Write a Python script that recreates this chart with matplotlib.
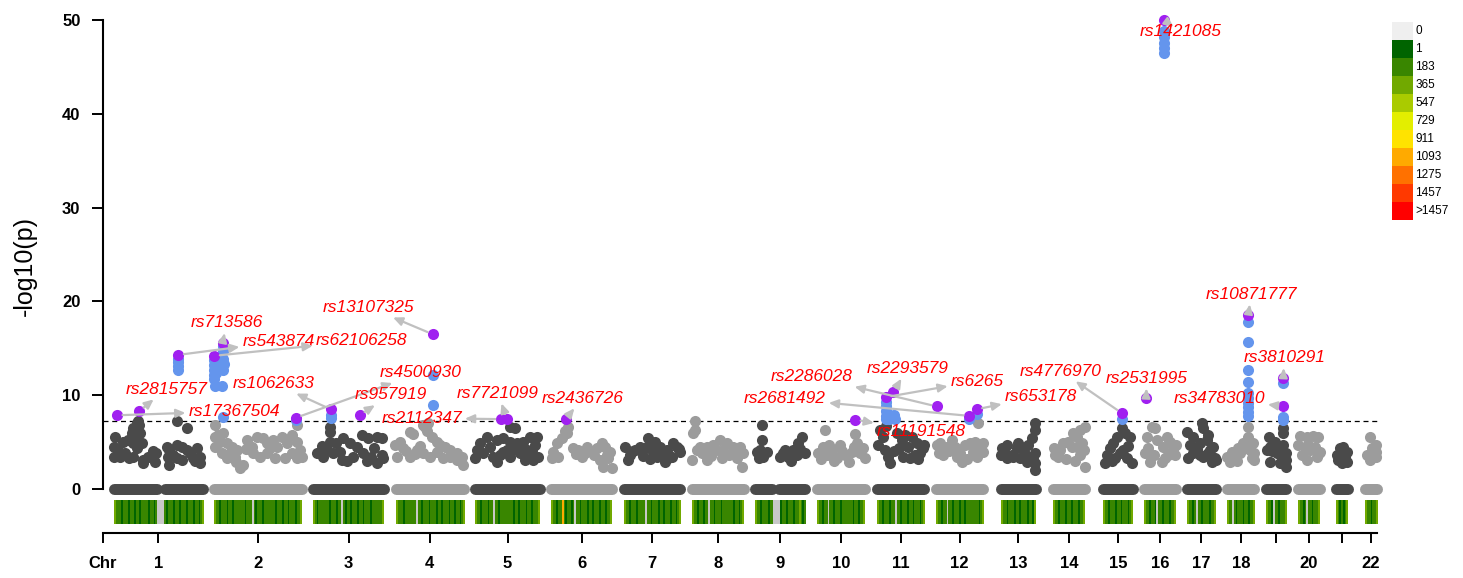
import numpy as np
import matplotlib
matplotlib.use("Agg")
import matplotlib.pyplot as plt
from matplotlib.colors import ListedColormap

plt.rcParams["font.family"] = ["Liberation Sans", "DejaVu Sans"]

# ---------------- data ----------------
chromosomes = [str(i) for i in range(1, 23)]
chrom_tick_labels = ["1", "2", "3", "4", "5", "6", "7", "8", "9", "10", "11", "12",
                     "13", "14", "15", "16", "17", "18", "", "20", "", "22"]
chrom_length_mb = [249.25, 243.20, 198.02, 191.15, 180.92, 171.12, 159.14, 146.36,
                   141.21, 135.53, 135.01, 133.85, 115.17, 107.35, 102.53, 90.35,
                   81.20, 78.08, 59.13, 63.03, 48.13, 51.30]
chrom_first_mb = [1, 1, 2, 3, 3, 3, 3, 3, 3, 3, 3, 3, 20, 20, 21, 3, 3, 3, 3, 3, 15, 18]
gap_chrom = [1, 9]
gap_start_mb = [121.5, 49.0]
gap_end_mb = [142.5, 67.0]
threshold = 7.3

# background SNPs (position in Mb, -log10 p) per chromosome
chr01 = [(5, 5.58), (3, 4.51), (14, 4.16), (28, 5.05), (42, 5.22), (51, 5.93), (56, 6.46), (65, 6.99),
         (69, 7.25), (71, 6.8), (74, 5.93), (60, 5.4), (56, 4.87), (65, 4.34), (79, 4.87), (3, 3.45),
         (19, 3.45), (33, 3.8), (45, 3.27), (56, 3.45), (83, 3.09), (83, 2.74), (97, 3.45), (111, 4.0),
         (118, 3.8), (115, 2.92), (176, 7.2), (203, 6.46), (148, 4.51), (155, 4.16), (175, 4.69),
         (189, 4.51), (203, 4.16), (150, 3.45), (175, 3.27), (189, 3.09), (212, 3.8), (231, 4.34),
         (240, 3.45), (221, 3.27), (155, 2.56), (240, 2.74), (226, 3.0), (165, 3.6)]
chr02 = [(3, 6.8), (2, 5.58), (26, 5.93), (17, 5.05), (3, 4.51), (35, 4.87), (49, 4.51), (63, 4.16),
         (44, 3.8), (21, 3.8), (58, 3.45), (35, 3.27), (72, 2.2), (91, 5.22), (104, 4.51), (118, 5.58),
         (136, 5.4), (146, 4.87), (155, 4.34), (109, 3.8), (127, 3.45), (146, 3.8), (164, 5.22),
         (173, 4.51), (187, 5.58), (201, 4.87), (215, 5.76), (229, 5.05), (238, 4.16), (215, 3.8),
         (196, 3.27), (229, 3.27), (242, 3.45), (80, 2.6), (60, 2.9), (12, 5.76), (229, 6.8),
         (88, 4.3), (170, 3.3)]
chr03 = [(48, 6.64), (48, 6.1), (48, 5.05), (85, 5.4), (104, 4.87), (136, 5.76), (154, 5.4), (177, 5.58),
         (191, 5.4), (122, 4.51), (12, 3.8), (30, 3.45), (57, 3.8), (76, 3.98), (81, 3.09), (113, 3.45),
         (140, 3.8), (163, 3.45), (177, 2.74), (191, 3.63), (196, 3.27), (40, 4.2), (66, 4.9),
         (95, 3.0), (150, 3.0), (25, 4.6), (170, 4.4)]
chr04 = [(42, 6.1), (52, 5.9), (79, 6.8), (93, 6.99), (89, 6.2), (84, 6.6), (102, 5.58), (116, 5.05),
         (125, 4.69), (139, 4.51), (153, 4.16), (171, 3.8), (185, 3.45), (189, 2.56), (2, 4.69),
         (15, 5.05), (24, 4.34), (6, 3.45), (42, 3.45), (61, 4.16), (79, 3.8), (98, 3.45), (116, 3.98),
         (134, 3.27), (153, 3.45), (171, 3.09), (30, 4.0), (55, 3.7), (70, 4.6)]
chr05 = [(99, 6.64), (112, 6.46), (34, 5.58), (16, 4.87), (43, 4.51), (62, 5.22), (80, 5.4), (99, 5.05),
         (117, 4.87), (135, 4.51), (7, 4.16), (25, 3.8), (52, 3.45), (80, 3.98), (99, 3.45), (126, 3.8),
         (145, 3.45), (2, 3.27), (62, 2.92), (135, 5.05), (154, 5.58), (172, 5.58), (168, 4.69),
         (145, 4.16), (177, 3.45), (163, 3.09), (140, 3.09), (90, 4.2), (70, 3.6), (108, 4.2), (160, 4.2)]
chr06 = [(50, 6.64), (45, 5.93), (40, 6.2), (31, 5.4), (18, 4.87), (8, 3.98), (4, 3.27), (22, 3.45),
         (63, 4.34), (77, 4.16), (87, 3.45), (100, 4.51), (114, 3.98), (128, 4.34), (142, 4.87),
         (151, 4.51), (156, 3.62), (165, 3.98), (137, 3.09), (146, 2.38), (170, 2.2), (160, 3.27),
         (95, 3.8), (120, 3.6), (70, 3.7)]
chr07 = [(6, 4.51), (20, 3.62), (15, 3.09), (34, 4.16), (47, 4.51), (70, 5.4), (66, 4.51), (84, 3.98),
         (94, 3.45), (103, 4.51), (121, 4.16), (139, 4.87), (149, 4.51), (157, 3.98), (135, 3.45),
         (117, 2.92), (155, 4.3), (55, 3.5), (90, 5.0), (28, 4.0), (110, 3.8), (125, 3.3), (76, 3.2)]
chr08 = [(11, 7.2), (11, 6.3), (7, 5.93), (16, 4.16), (30, 3.8), (2, 3.09), (44, 4.51), (62, 4.69),
         (80, 5.22), (99, 4.87), (90, 4.16), (117, 4.51), (127, 3.98), (44, 3.09), (120, 4.34),
         (136, 4.51), (144, 3.8), (140, 2.38), (127, 3.27), (55, 3.5), (70, 4.2), (105, 3.6),
         (25, 4.5), (85, 3.3)]
chr09 = [(20, 6.82), (20, 5.22), (16, 4.16), (6, 3.98), (34, 3.98), (25, 3.45), (80, 3.8), (94, 3.45),
         (108, 4.16), (121, 4.87), (131, 5.58), (140, 3.8), (117, 3.62), (71, 3.45), (100, 3.0),
         (12, 3.3), (126, 4.3), (86, 4.2)]
chr10 = [(25, 6.29), (20, 4.51), (6, 3.8), (30, 3.62), (43, 4.16), (57, 3.27), (66, 4.69), (80, 3.62),
         (99, 3.98), (108, 5.9), (113, 4.87), (122, 3.8), (131, 4.34), (135, 3.27), (50, 3.0),
         (90, 2.9), (15, 3.2), (72, 4.1), (104, 4.5), (36, 4.7)]
chr11 = [(12, 6.29), (22, 5.58), (8, 4.69), (26, 4.16), (35, 3.45), (40, 2.74), (59, 5.93), (72, 5.22),
         (82, 5.76), (91, 4.51), (100, 5.58), (114, 4.87), (123, 3.8), (109, 3.62), (132, 4.34),
         (134, 4.69), (77, 3.45), (50, 4.0), (95, 3.3), (118, 3.2), (28, 6.7), (64, 4.4)]
chr12 = [(118, 7.0), (14, 4.87), (33, 4.51), (46, 5.22), (56, 4.51), (69, 3.8), (83, 4.69), (97, 4.87),
         (106, 3.98), (115, 3.45), (124, 4.51), (133, 4.87), (133, 3.98), (60, 3.45), (23, 3.62),
         (5, 4.7), (12, 3.8), (75, 2.9), (90, 3.2), (40, 4.0), (110, 5.0)]
chr13 = [(115, 6.99), (114, 6.29), (104, 5.4), (95, 4.69), (77, 4.34), (63, 4.34), (49, 3.62), (35, 4.69),
         (22, 4.34), (21, 3.62), (35, 3.27), (72, 3.27), (91, 2.92), (113, 3.8), (115, 2.74), (115, 2.0),
         (109, 3.45), (54, 3.45), (68, 4.87), (28, 4.0), (85, 3.7)]
chr14 = [(107, 6.64), (94, 6.29), (85, 5.58), (75, 5.93), (62, 5.05), (71, 4.51), (48, 4.87), (39, 4.16),
         (25, 3.62), (21, 4.34), (34, 3.45), (85, 4.51), (99, 4.87), (106, 4.16), (107, 2.38), (94, 3.62),
         (55, 3.2), (80, 3.0)]
chr15 = [(73, 6.46), (82, 5.93), (96, 5.58), (59, 5.58), (49, 4.87), (40, 4.34), (31, 3.62), (27, 2.74),
         (54, 3.27), (77, 4.16), (87, 3.27), (100, 2.74), (68, 3.8), (45, 3.0), (90, 4.6)]
chr16 = [(10, 5.58), (24, 6.64), (33, 6.46), (38, 5.22), (6, 3.8), (19, 2.92), (29, 3.62), (56, 4.51),
         (65, 5.58), (75, 5.05), (84, 4.16), (89, 3.62), (70, 3.62), (52, 2.92), (90, 4.69), (60, 3.3),
         (15, 4.4)]
chr17 = [(1, 6.11), (20, 5.58), (43, 7.0), (47, 6.46), (61, 5.76), (57, 5.22), (38, 4.87), (11, 4.69),
         (20, 3.8), (38, 3.62), (61, 3.8), (75, 4.51), (80, 3.27), (81, 3.09), (70, 2.92), (47, 3.45),
         (6, 3.27), (30, 4.3), (66, 4.2)]
chr18 = [(61, 6.64), (61, 5.58), (48, 4.87), (34, 4.34), (16, 3.98), (2, 3.45), (25, 3.45), (38, 3.8),
         (66, 4.16), (75, 4.87), (78, 3.8), (78, 3.09), (71, 3.27), (11, 2.92), (55, 4.4), (30, 3.0)]
chr19 = [(10, 5.58), (28, 5.05), (14, 4.51), (42, 4.34), (51, 4.69), (59, 3.8), (33, 3.8), (14, 2.92),
         (42, 2.74), (59, 2.38), (59, 3.09), (46, 3.45), (51, 6.5), (51, 6.0), (20, 4.0), (5, 4.2)]
chr20 = [(9, 5.6), (27, 5.5), (46, 5.6), (59, 5.5), (4, 4.69), (23, 4.51), (37, 4.16), (50, 4.51),
         (63, 3.98), (62, 3.8), (14, 3.62), (27, 3.09), (55, 3.45), (32, 4.7)]
chr21 = [(27, 4.34), (37, 4.51), (46, 3.98), (23, 3.09), (32, 2.74), (46, 2.92), (18, 3.62), (41, 3.45)]
chr22 = [(33, 5.58), (51, 4.69), (38, 4.34), (51, 3.98), (24, 3.62), (42, 3.45), (50, 3.45), (33, 3.09)]
snps_by_chrom = [chr01, chr02, chr03, chr04, chr05, chr06, chr07, chr08, chr09, chr10, chr11,
                 chr12, chr13, chr14, chr15, chr16, chr17, chr18, chr19, chr20, chr21, chr22]

# significant SNPs (above threshold)
signif_chr = [1, 1, 1, 1,
              2, 2, 2, 2, 2, 2, 2, 2, 2, 2, 2, 2, 2, 2, 2, 2,
              3, 3, 4, 4,
              11, 11, 11, 11, 11, 11, 11, 11, 11,
              12, 12, 15,
              16, 16, 16, 16, 16,
              18, 18, 18, 18, 18, 18, 18, 18, 18, 18,
              19, 19, 19]
signif_pos = [180, 180, 180, 180,
              1, 1, 1, 1, 1, 2, 4, 5, 21, 25, 25, 26, 27, 26, 24.5, 227,
              50, 50, 105, 105,
              29, 29, 29, 29, 30, 34, 36, 50, 54,
              115.5, 95, 72.6,
              58.8, 58.8, 58.8, 58.8, 58.8,
              61.3, 61.3, 61.3, 61.3, 61.3, 61.3, 61.3, 61.3, 61.3, 61.3,
              50.8, 50.8, 50.8]
signif_logp = [13.9, 13.5, 13.1, 12.7,
               13.7, 13.2, 12.7, 12.2, 11.7, 11.0, 13.0, 12.4, 11.0, 15.2, 14.7, 13.9, 13.3, 12.7, 7.7, 7.4,
               7.9, 7.55, 12.15, 9.0,
               9.3, 8.8, 8.3, 7.8, 7.45, 8.0, 7.5, 7.9, 7.5,
               8.0, 7.5, 7.45,
               48.8, 48.2, 47.6, 47.0, 46.5,
               17.8, 15.7, 12.7, 11.4, 10.2, 9.7, 9.2, 8.7, 8.2, 7.8,
               11.3, 7.7, 7.4]

# lead SNPs (highlighted and labelled)
lead_id = ["rs17367504", "rs2815757", "rs543874", "rs62106258", "rs713586", "rs4500930",
           "rs1062633", "rs957919", "rs13107325", "rs2112347", "rs7721099", "rs2436726",
           "rs11191548", "rs6265", "rs2293579", "rs2286028", "rs2681492", "rs653178",
           "rs4776970", "rs2531995", "rs1421085", "rs10871777", "rs3810291", "rs34783010"]
lead_chr = [1, 1, 1, 2, 2, 2, 3, 3, 4, 5, 5, 6, 10, 11, 11, 12, 12, 12, 15, 16, 16, 18, 19, 19]
lead_pos = [10.5, 72, 180, 1.0, 24.2, 226.8, 50.3, 131, 105, 73, 90, 42.5,
            108.5, 29, 49.2, 5.0, 94.2, 115.5, 72.6, 8.3, 58.8, 61.3, 50.8, 50.8]
lead_logp = [7.86, 8.3, 14.3, 14.2, 15.6, 7.6, 8.5, 7.9, 16.5, 7.45, 7.45, 7.46,
             7.4, 9.8, 10.3, 8.8, 7.8, 8.5, 8.1, 9.7, 50.0, 18.55, 11.87, 8.8]

# SNP density per chromosome bin (legend class index, 0 = no SNP)
density_levels = [
    "322212221221221222212212" + "0000" + "2" + "122212212221222122123",
    "3221222122122222212220212221222222122212212221223",
    "3212222221222122021221222122122212222223",
    "32221222222022122212221221222122122123",
    "322122212202212222222122122212212223",
    "3221227212212022122212212221221223",
    "32212221222202212221221222122123",
    "32212212202212221222222122123",
    "3221222122000012212221223212",
    "322122022122212222221221223",
    "322122212202212221221222123",
    "322122022122212212222222123",
    "3221222122122212213",
    "322122212212221223",
    "32212221221222123",
    "322122102212221223",
    "3221202212221223",
    "3220212221221223",
    "322102212223",
    "3221202212223",
    "3212123",
    "3221223",
]
density_legend_labels = ["0", "1", "183", "365", "547", "729", "911", "1093", "1275", "1457", ">1457"]

# ---------------- style / layout ----------------
legend_colors = ["#EFEFEF", "#006400", "#398600", "#71A900", "#AACB00", "#E3EE00",
                 "#FFE300", "#FFAA00", "#FF7100", "#FF3900", "#FF0000"]
bar_colors = ["#C8C8C8"] + legend_colors[1:]
dark, light = "#4A4A4A", "#9C9C9C"
blue, purple = "#6495ED", "#A020F0"
label_offset_px = [(117, 4), (27, 22), (100, 13), (147, 15), (4, 20), (125, 45),
                   (-57, 26), (31, 20), (-64, 27), (-79, 1), (-9, 26), (17, 21),
                   (66, -12), (91, 16), (14, 24), (-125, 30), (-184, 17), (64, 13),
                   (-61, 42), (1, 20), (16, -12), (3, 21), (1, 20), (-64, 8)]
arrow_under_text = ["rs1421085"]

G = 29.0
offsets = []
acc = 0.0
for L in chrom_length_mb:
    offsets.append(acc)
    acc += L + G
genome_end = offsets[-1] + chrom_length_mb[-1]

W, H = 1463, 578
px_per_mb = 0.362
origin_px = 113.2
xmin, xmax = -G, genome_end + 20
left_px = origin_px + xmin * px_per_mb
right_px = origin_px + xmax * px_per_mb

fig = plt.figure(figsize=(W / 100, H / 100), dpi=100)
ax = fig.add_axes([left_px / W, 45 / H, (right_px - left_px) / W, 513 / H])

ms = 64
# background points
for i, pts in enumerate(snps_by_chrom):
    pos = np.array([p for p, _ in pts]) + offsets[i]
    val = np.array([v for _, v in pts])
    ax.scatter(pos, val, s=ms, color=dark if i % 2 == 0 else light,
               linewidths=0, zorder=3, clip_on=False)

# significant and lead points
sx = np.array([offsets[c - 1] + p for c, p in zip(signif_chr, signif_pos)])
ax.scatter(sx, signif_logp, s=ms, color=blue, linewidths=0, zorder=4, clip_on=False)
lx = np.array([offsets[c - 1] + p for c, p in zip(lead_chr, lead_pos)])
ax.scatter(lx, lead_logp, s=ms, color=purple, linewidths=0, zorder=5, clip_on=False)

# threshold
ax.plot([xmin, genome_end], [threshold, threshold], color="black", lw=0.9,
        linestyle=(0, (4, 3)), zorder=2)

# chromosome bars
for i, L in enumerate(chrom_length_mb):
    c = dark if i % 2 == 0 else light
    segs = [(chrom_first_mb[i], L)]
    if (i + 1) in gap_chrom:
        k = gap_chrom.index(i + 1)
        segs = [(chrom_first_mb[i], gap_start_mb[k]), (gap_end_mb[k], L)]
    for a, b in segs:
        ax.plot([offsets[i] + a, offsets[i] + b], [0, 0], color=c, lw=7.9,
                solid_capstyle="round", zorder=3)

# density strips
cmap = ListedColormap(bar_colors)
y_lo, y_hi = -3.73, -1.23
for i, s in enumerate(density_levels):
    lv = np.array([[int(ch) for ch in s]])
    ax.imshow(lv, cmap=cmap, vmin=-0.5, vmax=10.5, interpolation="nearest",
              extent=[offsets[i] + chrom_first_mb[i], offsets[i] + chrom_length_mb[i], y_lo, y_hi],
              aspect="auto", zorder=2)

# labels + arrows
for x, v, name, (dx, dy) in zip(lx, lead_logp, lead_id, label_offset_px):
    props = dict(arrowstyle="<|-,head_length=0.55,head_width=0.25",
                 color="#C0C0C0", lw=1.6, shrinkA=0, shrinkB=4, mutation_scale=10)
    if name in arrow_under_text:
        props["patchA"] = None
        props["shrinkA"] = 6
    ax.annotate(name, xy=(x, v), xytext=(dx, dy), textcoords="offset pixels",
                ha="center", va="center", color="#FF0000", fontstyle="italic",
                fontsize=12.5, zorder=6, annotation_clip=False, arrowprops=props)

ax.set_xlim(xmin, xmax)
ax.set_ylim(-4.69, 50)

for sp in ["top", "right"]:
    ax.spines[sp].set_visible(False)
ax.spines["left"].set_bounds(0, 50)
ax.spines["bottom"].set_bounds(xmin, genome_end)
for sp in ["left", "bottom"]:
    ax.spines[sp].set_linewidth(1.5)

centers = [offsets[i] + (chrom_first_mb[i] + chrom_length_mb[i]) / 2 for i in range(22)]
ax.set_xticks([xmin] + centers)
ax.set_xticklabels(["Chr"] + chrom_tick_labels, fontweight="bold", fontsize=12)
ax.set_yticks(range(0, 51, 10))
ax.set_yticklabels([str(v) for v in range(0, 51, 10)], fontweight="bold", fontsize=12)
ax.tick_params(axis="x", length=7.5, width=1.4, pad=9)
ax.tick_params(axis="y", length=8, width=1.4, pad=8)

fig.text(25 / W, 1 - 266.5 / H, "-log10(p)", rotation=90, fontsize=18,
         ha="center", va="center")

# density legend
lax = fig.add_axes([1392 / W, (H - 220) / H, 21 / W, 198 / H])
n = len(legend_colors)
for k, col in enumerate(legend_colors):
    lax.bar(0, 1, bottom=n - 1 - k, width=1, color=col, linewidth=0)
    lax.text(0.6, n - 0.5 - k, density_legend_labels[k], ha="left", va="center", fontsize=8.5)
lax.set_xlim(-0.5, 0.5)
lax.set_ylim(0, n)
lax.axis("off")

fig.savefig("out.png", dpi=100)
